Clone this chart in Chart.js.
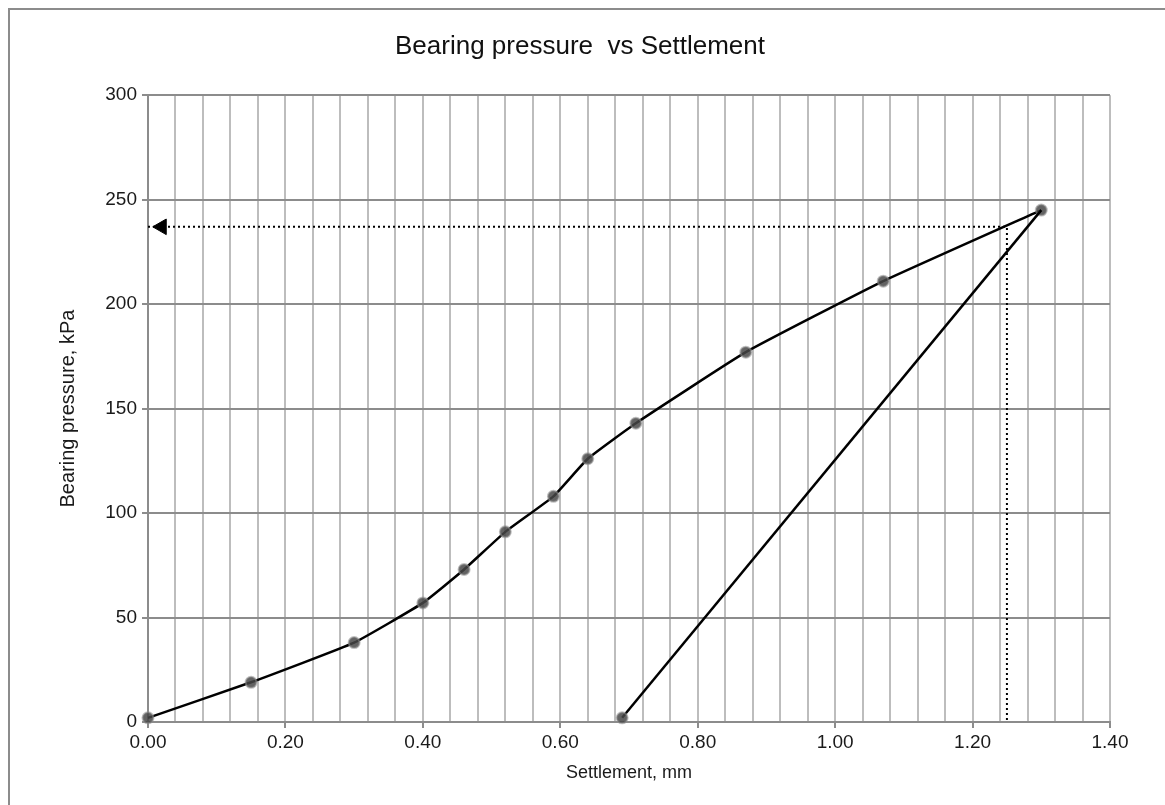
<!DOCTYPE html>
<html>
<head>
<meta charset="utf-8">
<script src="https://cdn.jsdelivr.net/npm/chart.js@4.4.0/dist/chart.umd.min.js"></script>
<style>
html, body { margin: 0; padding: 0; background: #fff; overflow: hidden; }
#wrap { position: relative; width: 1165px; height: 805px; }
#frame { position: absolute; left: 8px; top: 8px; width: 1300px; height: 1000px; border: 2px solid #8c8c8c; pointer-events: none; }
</style>
</head>
<body>
<div id="wrap">
	<canvas id="chart" width="1165" height="805"></canvas>
	<div id="frame"></div>
</div>
<script>
// Loading branch (settlement mm, pressure kPa)
const loadSettlement = [0.00, 0.15, 0.30, 0.40, 0.46, 0.52, 0.59, 0.64, 0.71, 0.87, 1.07, 1.30]
const loadPressure = [2, 19, 38, 57, 73, 91, 108, 126, 143, 177, 211, 245]

// Unloading branch
const unloadSettlement = [1.30, 0.69]
const unloadPressure = [245, 2]

// Dotted read-off guide with arrow at the pressure axis
const guideSettlement = [0.00, 1.25, 1.25]
const guidePressure = [237, 237, 0]
const arrowSettlement = [0.02]
const arrowPressure = [237]

// Labelled x ticks
const xTickLabels = ['0.00', '0.20', '0.40', '0.60', '0.80', '1.00', '1.20', '1.40']

const toPoints = (xs, ys) => xs.map((x, i) => ({ x: x, y: ys[i] }))

Chart.defaults.font.family = '"Liberation Sans", Arial, sans-serif'
Chart.defaults.color = '#1a1a1a'

const markerFill = 'rgba(70,70,70,0.85)'
const markerEdge = 'rgba(140,140,140,0.55)'

new Chart(document.getElementById('chart'), {
	type: 'scatter',
	data: {
		datasets: [
			{
				data: toPoints(guideSettlement, guidePressure),
				showLine: true,
				borderColor: '#000',
				borderWidth: 2,
				borderDash: [2, 3],
				pointRadius: 0,
				clip: false
			},
			{
				data: toPoints(arrowSettlement, arrowPressure),
				pointStyle: 'triangle',
				rotation: -90,
				pointRadius: 9,
				backgroundColor: '#000',
				borderColor: '#000',
				borderWidth: 1,
				clip: false
			},
			{
				data: toPoints(unloadSettlement, unloadPressure),
				showLine: true,
				borderColor: '#000',
				borderWidth: 2.5,
				pointRadius: [0, 5.5],
				pointBackgroundColor: markerFill,
				pointBorderColor: markerEdge,
				pointBorderWidth: 2,
				clip: false
			},
			{
				data: toPoints(loadSettlement, loadPressure),
				showLine: true,
				tension: 0.12,
				borderColor: '#000',
				borderWidth: 2.5,
				pointRadius: 5.5,
				pointBackgroundColor: markerFill,
				pointBorderColor: markerEdge,
				pointBorderWidth: 2,
				clip: false
			}
		]
	},
	options: {
		responsive: false,
		animation: false,
		devicePixelRatio: 1,
		layout: {
			padding: { left: 50, right: 55, top: 0, bottom: 0 }
		},
		plugins: {
			legend: { display: false },
			tooltip: { enabled: false },
			title: {
				display: true,
				text: 'Bearing pressure  vs Settlement',
				color: '#111',
				font: { size: 26, weight: 'normal' },
				padding: { top: 31, bottom: 33 }
			}
		},
		scales: {
			x: {
				type: 'linear',
				min: 0,
				max: 1.4,
				afterFit: s => { s.height = 83 },
				ticks: {
					stepSize: 0.04,
					autoSkip: false,
					maxRotation: 0,
					padding: 3,
					font: { size: 19 },
					callback: v => {
						const c = Math.round(v * 100)
						return c % 20 === 0 ? xTickLabels[c / 20] : ''
					}
				},
				grid: {
					color: '#bdbdbd',
					lineWidth: 2,
					tickLength: 6,
					tickColor: ctx => (Math.round(ctx.tick.value * 100) % 20 === 0 ? '#8c8c8c' : 'rgba(0,0,0,0)')
				},
				border: { color: '#8c8c8c', width: 2 },
				title: {
					display: true,
					text: 'Settlement, mm',
					font: { size: 18 },
					padding: { top: 4, bottom: 21 }
				}
			},
			y: {
				min: 0,
				max: 300,
				afterFit: s => { s.width = 98 },
				ticks: {
					stepSize: 50,
					padding: 5,
					font: { size: 19 }
				},
				grid: {
					color: '#8c8c8c',
					lineWidth: 2,
					tickLength: 6,
					tickColor: '#8c8c8c'
				},
				border: { color: '#8c8c8c', width: 2 },
				title: {
					display: true,
					text: 'Bearing pressure, kPa',
					font: { size: 20 },
					padding: { top: 6, bottom: 0 }
				}
			}
		}
	}
})
</script>
</body>
</html>
